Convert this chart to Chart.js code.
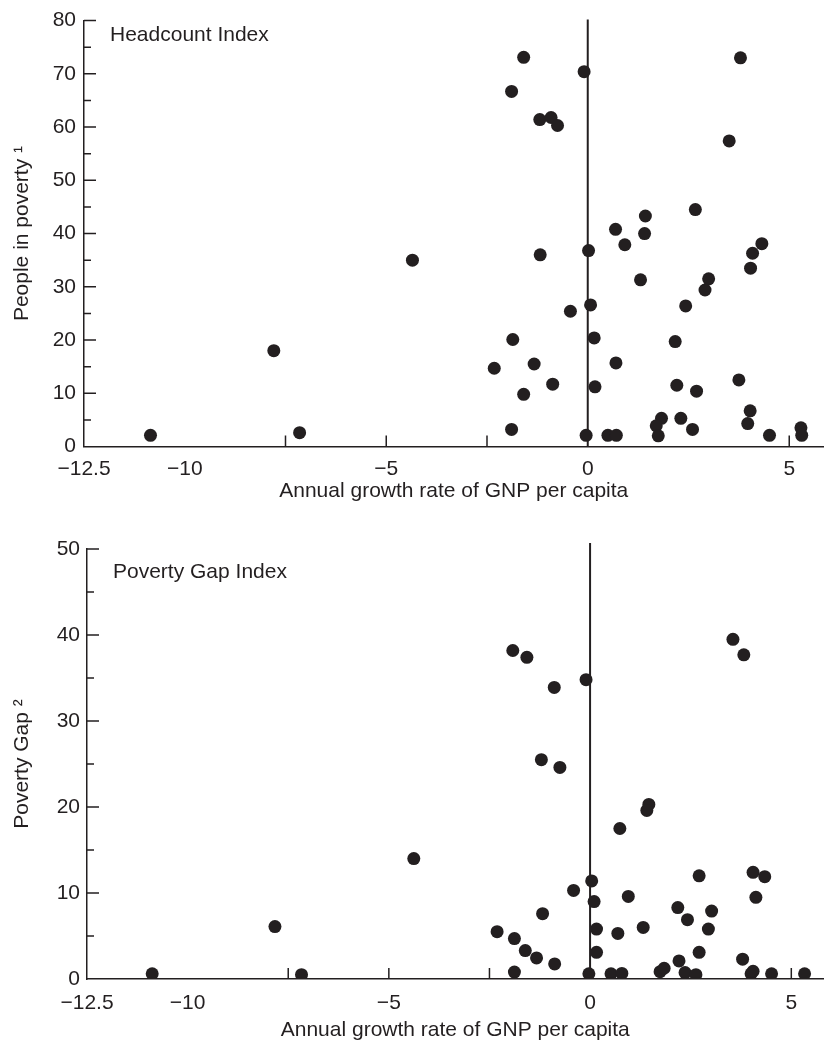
<!DOCTYPE html>
<html>
<head>
<meta charset="utf-8">
<script src="https://cdn.jsdelivr.net/npm/chart.js@4"></script>
<style>
  html, body { margin: 0; padding: 0; background: #fff; }
  #wrap { position: relative; width: 830px; height: 1047px; }
  #headcount { position: absolute; left: 0; top: 0; }
  #gap { position: absolute; left: 0; top: 520px; }
</style>
</head>
<body>
<div id="wrap">
  <canvas id="headcount" width="830" height="520"></canvas>
  <canvas id="gap" width="830" height="527"></canvas>
</div>
<script>
// Headcount index: growth rate of GNP per capita (x) vs people in poverty (y)
const headX = [-10.85, -7.79, -7.15, -4.35, -1.59, -0.09, -1.89, -1.19, -0.91, -0.75,
  3.79, 3.51, 2.67, 1.43, 0.69, 1.41, 0.92, 0.02, 4.32, 4.09, 4.04, -1.18,
  1.31, 3.00, 2.91, 0.07, -0.43, 2.43, -1.86, 0.16, 2.17, -2.32, -1.33, 0.70,
  -0.87, 0.18, 2.21, 3.75, 2.70, -1.59, 4.03, -1.89, -0.04, 0.50, 0.71,
  1.83, 1.70, 1.75, 2.31, 2.60, 3.97, 4.51, 5.29, 5.31];
const headY = [2.1, 18.0, 2.6, 35.0, 73.1, 70.4, 66.7, 61.4, 61.8, 60.3,
  73.0, 57.4, 44.5, 43.3, 40.8, 40.0, 37.9, 36.8, 38.1, 36.3, 33.5, 36.0,
  31.3, 31.5, 29.4, 26.6, 25.4, 26.4, 20.1, 20.4, 19.7, 14.7, 15.5, 15.7,
  11.7, 11.2, 11.5, 12.5, 10.4, 9.8, 6.7, 3.2, 2.1, 2.1, 2.1,
  5.3, 3.9, 2.0, 5.3, 3.2, 4.3, 2.1, 3.5, 2.1];

// Poverty gap index
const gapX = [-10.88, -7.83, -7.17, -4.38, 3.55, 3.82, -1.92, -1.57, -0.10, -0.89,
  -1.21, -0.75, 1.46, 1.41, 0.74, 0.04, -0.41, 0.10, 0.95, 2.71, 4.05, 4.34,
  4.12, -1.18, 2.18, 3.02, 2.42, -2.31, -1.88, 0.16, 0.69, 1.32, 2.94,
  -1.61, -1.33, -0.88, 0.16, 2.71, 2.21, 3.79, -1.88, -0.03, 0.52, 0.79,
  1.74, 1.84, 2.36, 2.63, 4.00, 4.05, 4.51, 5.33];
const gapY = [0.6, 6.1, 0.5, 14.0, 39.5, 37.7, 38.2, 37.4, 34.8, 33.9,
  25.5, 24.6, 20.3, 19.6, 17.5, 11.4, 10.3, 9.0, 9.6, 12.0, 12.4, 11.9,
  9.5, 7.6, 8.3, 7.9, 6.9, 5.5, 4.7, 5.8, 5.3, 6.0, 5.8,
  3.3, 2.45, 1.75, 3.1, 3.1, 2.1, 2.3, 0.8, 0.6, 0.6, 0.65,
  0.85, 1.25, 0.75, 0.5, 0.6, 0.9, 0.6, 0.6];

// axis ticks
const xLabelTicks = [-12.5, -10, -5, 0, 5];
const xTickMarks = [-7.5, -5, -2.5, 5];
const headYMajor = [10, 20, 30, 40, 50, 60, 70, 80];
const headYMinor = [5, 15, 25, 35, 45, 55, 65, 75];
const gapYMajor = [10, 20, 30, 40, 50];
const gapYMinor = [5, 15, 25, 35, 45];

const INK = '#231f20';
const FONT = '"Liberation Sans", Arial, Helvetica, sans-serif';
Chart.defaults.font.family = FONT;
Chart.defaults.font.size = 21;
Chart.defaults.color = INK;

function fmt(v) {
  return v < 0 ? '\u2212' + Math.abs(v) : String(v);
}

// zero line, inward tick marks and the panel label
const framePlugin = {
  id: 'frame',
  beforeDatasetsDraw(chart, args, opts) {
    const ctx = chart.ctx, area = chart.chartArea;
    const xs = chart.scales.x, ys = chart.scales.y;
    ctx.save();
    ctx.strokeStyle = INK;
    ctx.lineWidth = 2;
    const x0 = xs.getPixelForValue(0);
    ctx.beginPath();
    ctx.moveTo(x0, area.top - opts.zeroOver);
    ctx.lineTo(x0, area.bottom);
    ctx.stroke();

    ctx.lineWidth = 1.5;
    ctx.beginPath();
    opts.yMajor.forEach(function (v) {
      const y = ys.getPixelForValue(v);
      ctx.moveTo(area.left, y); ctx.lineTo(area.left + 12, y);
    });
    opts.yMinor.forEach(function (v) {
      const y = ys.getPixelForValue(v);
      ctx.moveTo(area.left, y); ctx.lineTo(area.left + 7, y);
    });
    xTickMarks.forEach(function (v) {
      const x = xs.getPixelForValue(v);
      ctx.moveTo(x, area.bottom); ctx.lineTo(x, area.bottom - 11);
    });
    ctx.stroke();

    ctx.fillStyle = INK;
    ctx.font = '21px ' + FONT;
    ctx.textBaseline = 'alphabetic';
    ctx.textAlign = 'left';
    ctx.fillText(opts.label, area.left + 26, area.top + opts.labelDy);
    ctx.restore();
  }
};

function makeChart(id, xs, ys, p) {
  const pts = xs.map(function (x, i) { return {x: x, y: ys[i]}; });
  return new Chart(document.getElementById(id), {
    type: 'scatter',
    data: {
      datasets: [{
        data: pts,
        backgroundColor: INK,
        borderWidth: 0,
        pointRadius: 6.5,
        pointHoverRadius: 6.5
      }]
    },
    plugins: [framePlugin],
    options: {
      responsive: false,
      animation: false,
      events: [],
      layout: { padding: { top: p.padTop, right: 0, bottom: 0, left: 0 } },
      plugins: {
        legend: { display: false },
        tooltip: { enabled: false },
        frame: { label: p.label, labelDy: p.labelDy, zeroOver: p.zeroOver, yMajor: p.yMajor, yMinor: p.yMinor }
      },
      scales: {
        x: {
          type: 'linear',
          min: -12.5,
          max: p.xMax,
          grid: { display: false, drawTicks: false },
          border: { display: true, color: INK, width: 1.5 },
          afterBuildTicks: function (scale) {
            scale.ticks = xLabelTicks.map(function (v) { return {value: v}; });
          },
          afterFit: function (scale) { scale.height = p.xHeight; },
          ticks: { padding: p.xTickPad, maxRotation: 0, autoSkip: false, callback: fmt },
          title: { display: true, text: 'Annual growth rate of GNP per capita', padding: { top: 0, bottom: p.xTitlePad } }
        },
        y: {
          type: 'linear',
          min: 0,
          max: p.yMax,
          grid: { display: false, drawTicks: false },
          border: { display: true, color: INK, width: 1.5 },
          afterFit: function (scale) { scale.width = p.yWidth; },
          ticks: { stepSize: 10, padding: p.yTickPad },
          title: { display: true, text: p.yTitle, padding: { top: 10, bottom: 0 } }
        }
      }
    }
  });
}

makeChart('headcount', headX, headY, {
  label: 'Headcount Index', labelDy: 20, zeroOver: 1,
  yMajor: headYMajor, yMinor: headYMinor, yMax: 80,
  yTitle: 'People in poverty \u00b9',
  padTop: 13, xMax: 5.85, xHeight: 73.5, xTickPad: 10, xTitlePad: 16, yWidth: 84, yTickPad: 8
});

makeChart('gap', gapX, gapY, {
  label: 'Poverty Gap Index', labelDy: 29, zeroOver: 6,
  yMajor: gapYMajor, yMinor: gapYMinor, yMax: 50,
  yTitle: 'Poverty Gap \u00b2',
  padTop: 29, xMax: 5.8, xHeight: 68, xTickPad: 12, xTitlePad: 4, yWidth: 87, yTickPad: 7
});
</script>
</body>
</html>
